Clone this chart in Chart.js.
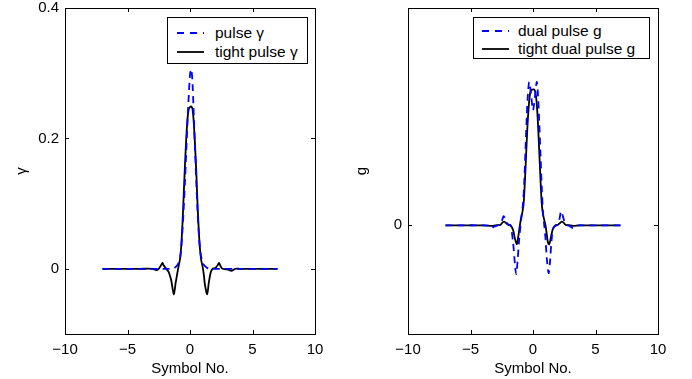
<!DOCTYPE html>
<html>
<head>
<meta charset="utf-8">
<script src="https://cdn.jsdelivr.net/npm/chart.js@4"></script>
<style>
  html, body { margin: 0; padding: 0; background: #fff; }
  body { width: 692px; height: 379px; position: relative; overflow: hidden; font-family: "Liberation Sans", Arial, sans-serif; }
  .wrap { position: absolute; top: 0; width: 346px; height: 379px; }
  .legend { position: absolute; border: 1px solid #000; background: #fff; box-sizing: border-box; }
  .row { position: absolute; left: 0; right: 0; height: 18px; }
  .row svg { position: absolute; top: 0; }
  .row span { position: absolute; top: 0; line-height: 18px; font-size: 15.5px; color: #000; white-space: nowrap; }
</style>
</head>
<body>
<div class="wrap" style="left:0"><canvas id="c1" width="346" height="379"></canvas></div>
<div class="wrap" style="left:346px"><canvas id="c2" width="346" height="379"></canvas></div>

<div class="legend" style="left:167px; top:17px; width:141px; height:47px;">
  <div class="row" style="top:6px">
    <svg width="30" height="18" style="left:9px"><line x1="0" y1="9" x2="27" y2="9" stroke="#0000ff" stroke-width="1.8" stroke-dasharray="7,6"/></svg>
    <span style="left:47px">pulse γ</span>
  </div>
  <div class="row" style="top:25px">
    <svg width="30" height="18" style="left:9px"><line x1="0" y1="9" x2="27" y2="9" stroke="#000" stroke-width="1.8"/></svg>
    <span style="left:47px">tight pulse γ</span>
  </div>
</div>
<div class="legend" style="left:473px; top:17px; width:177px; height:42px;">
  <div class="row" style="top:4px">
    <svg width="30" height="18" style="left:8px"><line x1="0" y1="9" x2="27" y2="9" stroke="#0000ff" stroke-width="1.8" stroke-dasharray="7,6"/></svg>
    <span style="left:44px">dual pulse g</span>
  </div>
  <div class="row" style="top:22px">
    <svg width="30" height="18" style="left:8px"><line x1="0" y1="9" x2="27" y2="9" stroke="#000" stroke-width="1.8"/></svg>
    <span style="left:44px">tight dual pulse g</span>
  </div>
</div>

<script>
// ---- tick labels ----
const xTicks = [-10, -5, 0, 5, 10];
const leftYTicks = [0, 0.2, 0.4];
const rightYTicks = [0];

// ---- left panel: pulse gamma (blue dashed) ----
const pulseX = [-7, -4, -2, -1.5, -1.2, -1.0, -0.8, -0.6, -0.4, -0.2, 0, 0.1, 0.2, 0.4, 0.6, 0.8, 1.0, 1.2, 1.5, 2, 4, 7];
const pulseY = [0, 0, 0, 0, 0.002, 0.006, 0.015, 0.06, 0.135, 0.225, 0.298, 0.306, 0.285, 0.185, 0.09, 0.03, 0.01, 0.004, 0, 0, 0, 0];

// ---- left panel: tight pulse gamma (black solid) ----
const tightPulseX = [-7, -4, -3, -2.7, -2.5, -2.3, -2.2, -2.1, -1.9, -1.7, -1.5, -1.3, -1.15, -1.0, -0.9, -0.8, -0.7, -0.6, -0.5, -0.4, -0.3, -0.2, -0.1, 0, 0.1, 0.2, 0.3, 0.4, 0.5, 0.6, 0.7, 0.8, 0.9, 1.0, 1.1, 1.2, 1.37, 1.5, 1.65, 1.8, 2.0, 2.2, 2.32, 2.45, 2.6, 3.0, 3.35, 3.6, 4, 7];
const tightPulseY = [0, 0, 0, -0.002, 0, 0.006, 0.009, 0.005, 0, -0.005, -0.018, -0.039, -0.022, -0.005, 0.005, 0.015, 0.035, 0.07, 0.115, 0.16, 0.2, 0.23, 0.245, 0.248, 0.249, 0.245, 0.225, 0.19, 0.15, 0.1, 0.06, 0.03, 0.013, 0.004, -0.008, -0.025, -0.039, -0.022, -0.006, 0, 0.001, 0.005, 0.009, 0.004, 0, -0.001, -0.003, 0, 0, 0];

// ---- right panel: dual pulse g (blue dashed) ----
const dualX = [-7, -4, -3.5, -3.3, -3.1, -2.8, -2.5, -2.35, -2.2, -2.0, -1.8, -1.6, -1.45, -1.35, -1.25, -1.1, -0.95, -0.8, -0.7, -0.6, -0.5, -0.4, -0.3, -0.15, 0, 0.15, 0.3, 0.4, 0.5, 0.6, 0.7, 0.8, 0.9, 1.0, 1.1, 1.25, 1.35, 1.5, 1.65, 1.9, 2.1, 2.25, 2.4, 2.6, 2.9, 3.2, 3.4, 3.7, 4, 7];
const dualY = [0, 0, -0.005, -0.025, -0.01, 0, 0.04, 0.085, 0.05, 0.01, 0, -0.15, -0.35, -0.45, -0.35, -0.12, 0.05, 0.2, 0.4, 0.7, 1.0, 1.22, 1.32, 1.2, 1.06, 1.18, 1.32, 1.2, 0.95, 0.65, 0.35, 0.12, 0, -0.12, -0.3, -0.44, -0.35, -0.12, -0.02, 0, 0.05, 0.13, 0.08, 0.01, -0.005, -0.025, -0.01, 0, 0, 0];

// ---- right panel: tight dual pulse g (black solid) ----
const tightDualX = [-7, -4, -3.3, -3, -2.6, -2.45, -2.3, -2.15, -2.0, -1.8, -1.6, -1.45, -1.3, -1.2, -1.05, -0.95, -0.85, -0.75, -0.65, -0.55, -0.45, -0.35, -0.25, -0.15, 0, 0.1, 0.2, 0.3, 0.4, 0.5, 0.6, 0.7, 0.8, 0.9, 1.0, 1.1, 1.2, 1.3, 1.45, 1.6, 1.8, 2.0, 2.15, 2.3, 2.45, 2.6, 3, 3.3, 3.6, 4, 7];
const tightDualY = [0, 0, -0.005, 0, 0.005, 0.025, 0.035, 0.02, 0.005, 0, -0.04, -0.12, -0.175, -0.12, 0, 0.07, 0.12, 0.2, 0.4, 0.65, 0.9, 1.08, 1.2, 1.245, 1.25, 1.25, 1.22, 1.12, 0.93, 0.68, 0.42, 0.2, 0.1, 0.05, 0, -0.08, -0.16, -0.175, -0.1, -0.03, 0, 0.005, 0.02, 0.035, 0.025, 0.005, 0, -0.005, 0, 0, 0];

const FONT = "'Liberation Sans', Arial, sans-serif";
const pts = (xs, ys) => xs.map((x, i) => ({ x: x, y: ys[i] }));
const fmt = v => (v < 0 ? '\u2212' + Math.abs(v) : String(v));

const boxPlugin = {
  id: 'box',
  afterDraw(chart) {
    const { ctx, chartArea: a, scales } = chart;
    ctx.save();
    ctx.strokeStyle = '#000';
    ctx.lineWidth = 1;
    ctx.beginPath();
    const L = 4;
    scales.x.ticks.forEach(t => {
      const px = Math.round(scales.x.getPixelForValue(t.value)) + 0.5;
      ctx.moveTo(px, a.bottom); ctx.lineTo(px, a.bottom - L);
      ctx.moveTo(px, a.top); ctx.lineTo(px, a.top + L);
    });
    scales.y.ticks.forEach(t => {
      const py = Math.round(scales.y.getPixelForValue(t.value)) + 0.5;
      ctx.moveTo(a.left, py); ctx.lineTo(a.left + L, py);
      ctx.moveTo(a.right, py); ctx.lineTo(a.right - L, py);
    });
    ctx.stroke();
    ctx.strokeRect(Math.round(a.left) + 0.5, Math.round(a.top) + 0.5, Math.round(a.right - a.left), Math.round(a.bottom - a.top));
    ctx.restore();
  }
};

function makeChart(id, ds, yMin, yMax, yTicks, yTitle, yWidth, rightPad, titlePad) {
  return new Chart(document.getElementById(id), {
    type: 'line',
    data: { datasets: ds },
    options: {
      responsive: false,
      animation: false,
      devicePixelRatio: 1,
      layout: { padding: { left: 0, right: rightPad, top: 8, bottom: 0 } },
      plugins: { legend: { display: false }, tooltip: { enabled: false } },
      elements: { point: { radius: 0 } },
      scales: {
        x: {
          type: 'linear', min: -10, max: 10,
          afterBuildTicks: s => { s.ticks = xTicks.map(v => ({ value: v })); },
          afterFit: s => { s.height = 45; s.paddingLeft = 0; s.paddingRight = 0; },
          grid: { display: false, drawTicks: false },
          border: { display: false },
          ticks: { padding: 7, color: '#000', font: { family: FONT, size: 15 }, callback: v => fmt(v), maxRotation: 0 },
          title: { display: true, text: 'Symbol No.', color: '#000', font: { family: FONT, size: 15 }, padding: { top: 0, bottom: 1 } }
        },
        y: {
          type: 'linear', min: yMin, max: yMax,
          afterBuildTicks: s => { s.ticks = yTicks.map(v => ({ value: v })); },
          afterFit: s => { s.width = yWidth; s.paddingTop = 0; s.paddingBottom = 0; },
          grid: { display: false, drawTicks: false },
          border: { display: false },
          ticks: { padding: 6, color: '#000', font: { family: FONT, size: 15 }, callback: v => fmt(v) },
          title: { display: true, text: yTitle, color: '#000', font: { family: FONT, size: 15 }, padding: { top: titlePad, bottom: 0 } }
        }
      }
    },
    plugins: [boxPlugin]
  });
}

makeChart('c1', [
  { label: 'pulse γ', data: pts(pulseX, pulseY), borderColor: '#0000ff', borderWidth: 1.8, borderDash: [7, 5], tension: 0.3, fill: false },
  { label: 'tight pulse γ', data: pts(tightPulseX, tightPulseY), borderColor: '#000', borderWidth: 1.8, tension: 0.3, fill: false }
], -0.1, 0.4, leftYTicks, 'γ', 65, 31, 13);

makeChart('c2', [
  { label: 'dual pulse g', data: pts(dualX, dualY), borderColor: '#0000ff', borderWidth: 1.8, borderDash: [7, 5], tension: 0.3, fill: false },
  { label: 'tight dual pulse g', data: pts(tightDualX, tightDualY), borderColor: '#000', borderWidth: 1.8, tension: 0.3, fill: false }
], -1, 2, rightYTicks, 'g', 62, 34, 7);
</script>
</body>
</html>
